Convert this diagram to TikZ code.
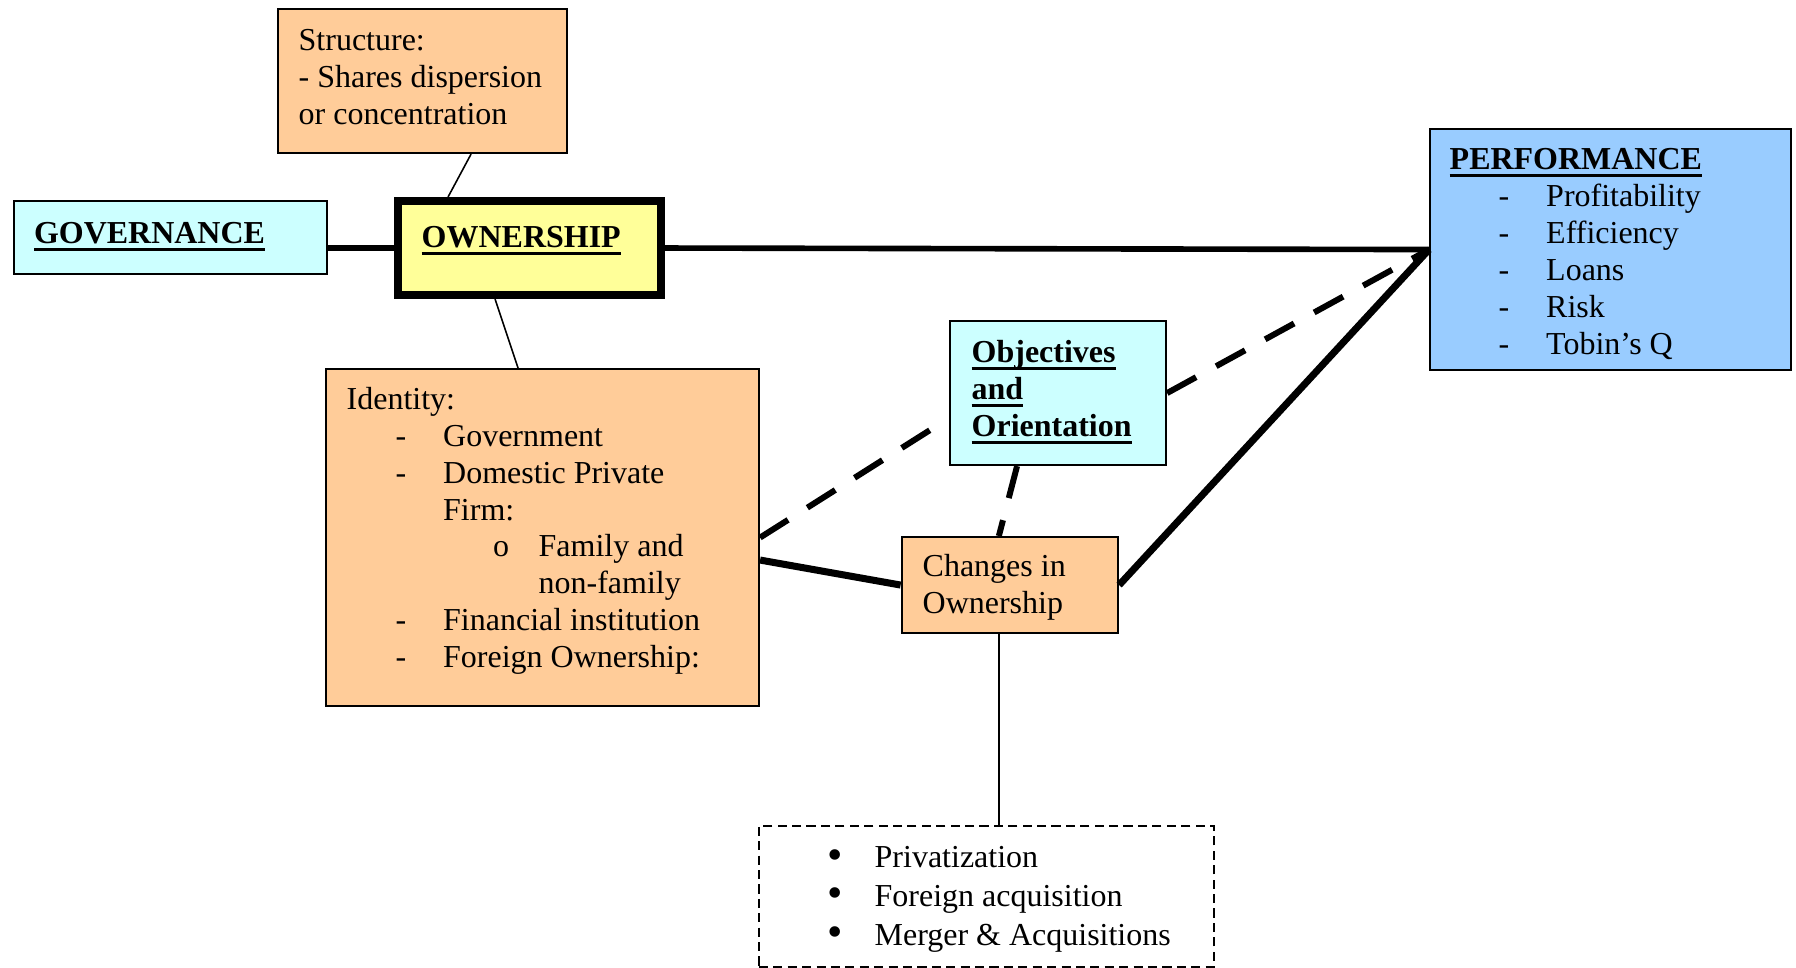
\documentclass[tikz,border=0pt]{standalone}
\usepackage{fontspec}
\setmainfont{Liberation Serif}

\definecolor{peach}{HTML}{FFCC99}
\definecolor{paleCyan}{HTML}{CCFFFF}
\definecolor{paleYellow}{HTML}{FFFF99}
\definecolor{skyBlue}{HTML}{99CCFF}

\newcommand{\ulhead}[1]{\setbox0=\hbox{\bfseries #1}\rlap{\rule[-2pt]{\wd0}{0.8pt}}\box0}
\newcommand{\dline}[1]{\hspace*{0.49cm}\makebox[0.475cm][l]{-}#1}
\newcommand{\bline}[1]{\makebox[0.47cm][l]{\raisebox{-0.4pt}{\fontsize{12.5pt}{0pt}\selectfont\textbullet}}#1}

\begin{document}
\begin{tikzpicture}[
    font=\fontsize{9.1pt}{10.5pt}\selectfont,
    box/.style={draw, line width=0.6pt, inner sep=0pt, anchor=north west},
    txt/.style={inner sep=0pt, anchor=base west, yshift=-0.2mm},
    heavy/.style={line width=1.6pt},
    heavier/.style={line width=2pt},
    dashheavy/.style={line width=1.7pt, dash pattern=on 9.4pt off 6.5pt},
    thinlink/.style={line width=0.45pt}
  ]
      \useasboundingbox (0,0) rectangle (17.96,-9.68);

      % boxes
      \node[box, fill=peach, minimum width=2.89cm, minimum height=1.44cm] (struct) at (2.77,-0.08) {};
      \node[box, fill=paleCyan, minimum width=3.13cm, minimum height=0.73cm] (gov) at (0.126,-2.00) {};
      \node[box, fill=paleYellow, line width=2.3pt, minimum width=2.63cm, minimum height=0.94cm] (own) at (3.94,-1.97) {};
      \node[box, fill=skyBlue, minimum width=3.61cm, minimum height=2.41cm] (perf) at (14.29,-1.28) {};
      \node[box, fill=paleCyan, minimum width=2.16cm, minimum height=1.44cm] (obj) at (9.49,-3.20) {};
      \node[box, fill=peach, minimum width=4.33cm, minimum height=3.37cm] (ident) at (3.25,-3.68) {};
      \node[box, fill=peach, minimum width=2.164cm, minimum height=0.96cm] (chg) at (9.006,-5.36) {};
      \node[box, fill=white, line width=0.5pt, dash pattern=on 2.6pt off 1.5pt, minimum width=4.55cm, minimum height=1.41cm] (lst) at (7.58,-8.25) {};

      % texts
      \node[txt] (struct-text) at (2.98,-0.483) {\begin{tabular}[t]{@{}l@{}}Structure:\\- Shares dispersion\\or concentration\end{tabular}};
      \node[txt] (gov-text) at (0.333,-2.42) {\ulhead{GOVERNANCE}};
      \node[txt] (own-text) at (4.21,-2.46) {\ulhead{OWNERSHIP}};
      \node[txt] (perf-text) at (14.49,-1.68) {\begin{tabular}[t]{@{}l@{}}\ulhead{PERFORMANCE}\\\dline{Profitability}\\\dline{Efficiency}\\\dline{Loans}\\\dline{Risk}\\\dline{Tobin’s Q}\end{tabular}};
      \node[txt] (obj-text) at (9.71,-3.61) {\begin{tabular}[t]{@{}l@{}}\ulhead{Objectives}\\\ulhead{and}\\\ulhead{Orientation}\end{tabular}};
      \node[txt] (ident-text) at (3.46,-4.073) {\begin{tabular}[t]{@{}l@{}}Identity:\\\dline{Government}\\\dline{Domestic Private}\\\hspace*{0.965cm}Firm:\\\hspace*{1.465cm}\makebox[0.455cm][l]{o}Family and\\\hspace*{1.92cm}non-family\\\dline{Financial institution}\\\dline{Foreign Ownership:}\end{tabular}};
      \node[txt] (chg-text) at (9.22,-5.75) {\begin{tabular}[t]{@{}l@{}}Changes in\\Ownership\end{tabular}};
      \node[txt] (lst-text) at (8.27,-8.657) {\begin{tabular}[t]{@{}l@{}}\bline{Privatization}\\[0.5pt]\bline{Foreign acquisition}\\[0.5pt]\bline{Merger \& Acquisitions}\end{tabular}};

      % links
      \draw[thinlink] ([xshift=4.85mm]struct.south) -- ([xshift=-8.15mm]own.north);
      \draw[thinlink] ([xshift=-3.45mm]own.south) -- ([xshift=-2.45mm]ident.north);
      \draw[heavy] (gov.east |- own.west) -- (own.west);
      \draw[heavy] (own.east) -- (perf.west);
      \draw[heavier] ([yshift=-2.25mm]ident.east) -- (chg.west);
      \draw[heavier] (chg.east) -- (perf.west);
      \draw[dashheavy] (ident.east) -- ([yshift=-2.5mm]obj.west);
      \draw[dashheavy] (obj.east) -- (perf.west);
      \draw[dashheavy] ([xshift=-4.1mm]obj.south) -- ([xshift=-1.1mm]chg.north);
      \draw[thinlink] ([xshift=-1.1mm]chg.south) -- ([xshift=-1.1mm]chg.south |- lst.north);
\end{tikzpicture}
\end{document}
